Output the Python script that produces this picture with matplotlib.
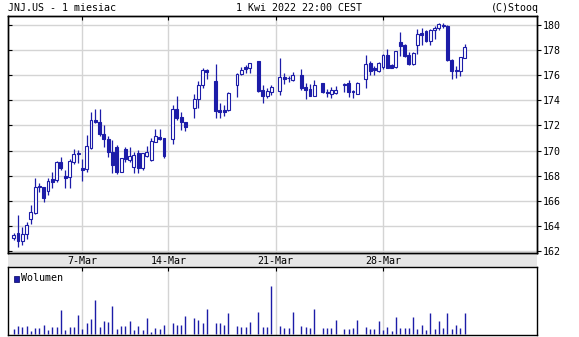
import matplotlib
matplotlib.use('Agg')
import matplotlib.pyplot as plt
from matplotlib.patches import Rectangle

# hourly candles, x = slot index (gaps where no bar)
slots = list(range(0, 36)) + [37, 38, 39, 40, 42, 43, 44, 45, 47, 48, 49, 50, 52, 53, 54, 55,
         57, 58, 59, 60, 62, 63, 64, 65, 67, 68, 69, 70, 72, 73, 74, 75, 77, 78, 79, 80,
         82, 83, 84, 85] + list(range(86, 106))

opens = [163.06, 163.41, 162.80, 163.33, 164.52, 165.05, 167.17, 167.07, 166.80, 167.74,
         167.63, 169.09, 167.95, 167.92, 169.12, 169.70, 168.60, 168.53, 170.18, 172.43,
         172.25, 171.35, 170.92, 169.91, 170.26, 168.32, 170.12, 169.25, 168.72, 169.83,
         168.64, 169.57, 169.25, 170.71, 171.11, 170.97,
         170.92, 173.28, 172.67, 172.27, 173.36, 174.09, 175.24, 176.44, 175.51, 173.20,
         173.20, 173.23, 175.24, 176.12, 176.63, 176.54, 177.13, 174.81, 174.34, 174.63,
         174.73, 175.88, 175.80, 175.61, 176.01, 175.08, 174.89, 174.36, 175.35, 174.68,
         174.47, 174.55, 175.21, 175.35, 174.73, 174.53, 175.73, 176.97, 176.54, 176.35,
         176.62, 177.62, 176.81, 176.62, 178.65, 178.38, 177.65, 176.89, 178.43, 179.35,
         179.51, 178.70, 179.60, 179.78, 180.00, 179.92, 177.22, 176.43, 176.35, 177.38]
highs = [163.41, 164.87, 163.94, 164.34, 165.70, 167.79, 167.39, 167.13, 167.79, 168.32,
         169.20, 169.51, 168.45, 169.33, 170.10, 170.04, 169.33, 171.24, 173.10, 173.28,
         173.28, 172.04, 171.19, 170.84, 170.44, 169.43, 170.31, 170.26, 169.91, 170.04,
         169.83, 170.36, 171.03, 171.72, 171.72, 171.03,
         173.63, 174.35, 173.10, 172.30, 174.51, 175.56, 176.58, 176.50, 176.93, 173.82,
         173.63, 174.70, 176.18, 176.63, 176.85, 176.94, 177.13, 175.21, 174.95, 175.21,
         177.34, 176.14, 175.96, 176.28, 176.49, 175.35, 175.27, 175.66, 175.35, 174.89,
         175.08, 175.13, 175.35, 175.66, 174.81, 175.47, 177.65, 177.16, 176.76, 177.03,
         177.70, 178.10, 176.89, 177.97, 179.46, 178.51, 177.84, 177.84, 179.68, 179.80,
         179.60, 179.68, 179.95, 180.14, 180.14, 180.00, 177.30, 176.76, 177.49, 178.51]
lows = [162.88, 162.35, 162.48, 162.96, 164.13, 164.92, 166.73, 165.93, 166.46, 167.04,
        167.52, 168.43, 167.04, 167.04, 168.96, 168.98, 167.58, 168.32, 170.12, 172.17,
        171.19, 170.31, 169.51, 168.19, 168.11, 168.27, 169.12, 169.07, 168.19, 168.24,
        168.45, 169.51, 169.17, 170.66, 170.84, 169.43,
        170.55, 172.43, 171.64, 171.58, 172.56, 173.36, 174.97, 175.72, 172.61, 172.61,
        172.77, 173.17, 174.30, 176.04, 176.18, 176.14, 174.68, 173.80, 174.15, 174.41,
        174.41, 175.27, 175.48, 175.56, 174.81, 174.07, 174.36, 174.34, 174.55, 174.28,
        174.20, 174.47, 174.68, 174.28, 174.20, 174.51, 174.99, 176.00, 176.00, 176.27,
        176.49, 176.54, 176.54, 176.57, 177.51, 177.43, 176.84, 176.84, 177.70, 178.43,
        178.65, 178.43, 178.92, 179.60, 179.73, 177.11, 175.73, 175.81, 175.95, 177.35]
closes = [163.28, 162.80, 163.36, 164.07, 165.13, 167.07, 167.07, 166.20, 167.58, 167.52,
          169.12, 168.64, 167.79, 169.20, 169.70, 169.78, 168.45, 170.34, 172.41, 172.30,
          171.29, 170.90, 169.86, 168.85, 168.32, 169.38, 169.30, 169.57, 169.65, 168.64,
          169.78, 169.91, 170.76, 171.19, 170.92, 169.59,
          173.28, 172.62, 172.25, 171.90, 174.11, 175.24, 176.44, 176.23, 173.15, 173.07,
          173.07, 174.57, 176.12, 176.44, 176.50, 176.94, 174.73, 174.36, 174.73, 175.08,
          175.88, 175.74, 175.77, 176.01, 175.00, 174.79, 174.36, 175.21, 174.63, 174.55,
          174.81, 174.81, 175.29, 174.68, 174.63, 175.39, 176.93, 176.35, 176.43, 176.97,
          177.62, 176.57, 176.57, 177.92, 178.32, 177.57, 176.89, 177.78, 179.27, 179.24,
          178.70, 179.60, 179.78, 180.05, 179.92, 177.22, 176.35, 176.35, 177.43, 178.24]
# volume, thousands of shares
volume = [300, 460, 400, 480, 200, 340, 340, 540, 240, 440, 440, 1440, 240, 420, 420, 1140,
          300, 700, 900, 2060, 420, 780, 740, 1680, 280, 460, 460, 780, 240, 480, 240, 1000,
          140, 380, 280, 520,
          660, 540, 540, 1080, 980, 840, 700, 1500, 700, 700, 540, 1260, 480, 420, 420, 720,
          1320, 420, 420, 2940, 480, 360, 360, 1320, 480, 420, 360, 1500, 360, 360, 360, 840,
          300, 300, 360, 840, 420, 300, 300, 780,
          240, 420, 180, 1020, 360, 360, 360, 1020, 300, 540, 240, 1260, 300, 780, 360, 1260,
          300, 540, 360, 1260]

tick_slots = [16, 36, 61, 86]
tick_labels = ['7-Mar', '14-Mar', '21-Mar', '28-Mar']
price_ticks = [162, 164, 166, 168, 170, 172, 174, 176, 178, 180]

blue = '#1c1ca8'
grid = '#d4d4d4'
font = 'DejaVu Sans Mono'
fs = 7.2

W, H = 579, 337
fig = plt.figure(figsize=(W / 100, H / 100), dpi=100)

def rect(x0, y0, x1, y1):
    return [x0 / W, 1 - y1 / H, (x1 - x0) / W, (y1 - y0) / H]

# grey band behind the date labels
fig.patches.append(Rectangle((8 / W, 1 - 266.7 / H), 529 / W, 13.7 / H,
                             transform=fig.transFigure, facecolor='#e6e6e6',
                             edgecolor='none', zorder=-5))

ax = fig.add_axes(rect(8, 16, 537, 253))
axv = fig.add_axes(rect(8, 266.7, 537, 335))

xlim = (-1.32, 121.85)

# candles
ax.vlines(slots, lows, highs, color=blue, linewidth=0.9, zorder=3)
for s, o, c in zip(slots, opens, closes):
    face = 'white' if c >= o else blue
    ax.bar(s, max(abs(c - o), 0.02), bottom=min(o, c), width=0.68,
           facecolor=face, edgecolor=blue, linewidth=0.8, zorder=4)

ax.set_xlim(*xlim)
ax.set_ylim(161.84, 180.72)
ax.set_yticks(price_ticks)
ax.tick_params(axis='y', left=True, right=False, labelleft=False, direction='in', length=3)
ax.set_xticks(tick_slots)
ax.set_xticklabels(tick_labels, fontfamily=font, fontsize=fs)
ax.tick_params(axis='x', bottom=False, top=True, labelbottom=True,
               direction='in', length=3, pad=2)
ax.grid(True, color=grid, linewidth=1)
ax.set_axisbelow(True)

axr = ax.twinx()
axr.set_ylim(ax.get_ylim())
axr.set_yticks(price_ticks)
axr.set_yticklabels([str(p) for p in price_ticks], fontfamily=font, fontsize=fs)
axr.tick_params(axis='y', direction='out', length=3, pad=1)

# volume
axv.vlines(slots, 0, volume, color=blue, linewidth=1)
axv.set_xlim(*xlim)
axv.set_ylim(-60, 4100)
axv.set_yticks([])
axv.set_xticks(tick_slots)
axv.set_xticklabels([])
axv.tick_params(axis='x', bottom=False, top=True, direction='in', length=3)
axv.grid(True, axis='x', color=grid, linewidth=1)
axv.set_axisbelow(True)
axv.add_patch(Rectangle((0.011, 0.78), 0.009, 0.085, transform=axv.transAxes,
                        facecolor=blue, edgecolor='#000060', linewidth=0.5))
axv.text(0.024, 0.83, 'Wolumen', transform=axv.transAxes, fontfamily=font,
         fontsize=fs, va='center', ha='left')

for a in (ax, axr, axv):
    for sp in a.spines.values():
        sp.set_color('black')
        sp.set_linewidth(1)

fig.text(8 / W, 1 - 8 / H, 'JNJ.US - 1 miesiac', fontfamily=font, fontsize=fs,
         va='center', ha='left')
fig.text(299 / W, 1 - 8 / H, '1 Kwi 2022 22:00 CEST', fontfamily=font, fontsize=fs,
         va='center', ha='center')
fig.text(539 / W, 1 - 8 / H, '(C)Stooq', fontfamily=font, fontsize=fs,
         va='center', ha='right')

fig.savefig('out.png', dpi=100)
